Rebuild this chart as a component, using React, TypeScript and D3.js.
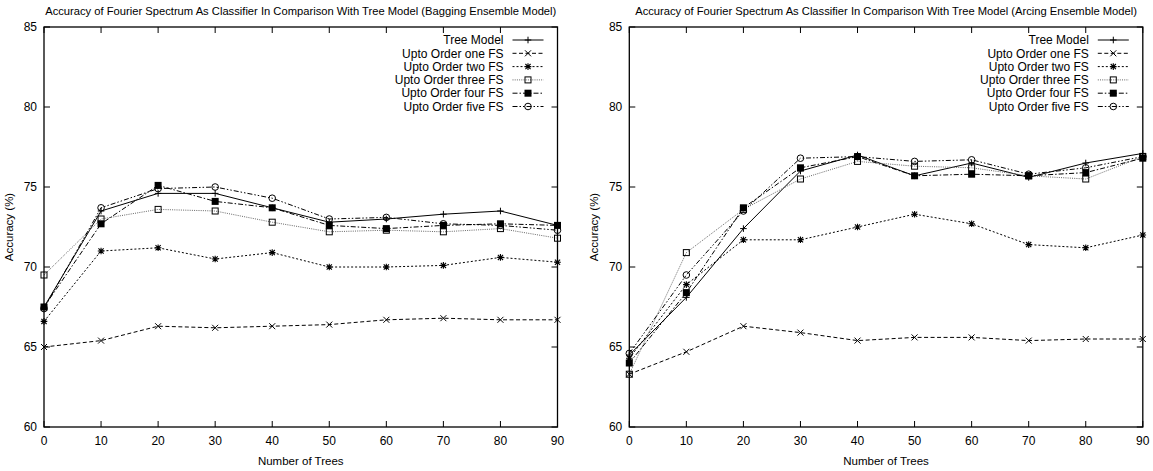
import React from "react";
import * as d3 from "d3";

const TREES = [0, 10, 20, 30, 40, 50, 60, 70, 80, 90];
const X_TICKS = [0, 10, 20, 30, 40, 50, 60, 70, 80, 90];
const Y_TICKS = [60, 65, 70, 75, 80, 85];

const SERIES_NAMES = [
  "Tree Model",
  "Upto Order one FS",
  "Upto Order two FS",
  "Upto Order three FS",
  "Upto Order four FS",
  "Upto Order five FS",
];

// Bagging ensemble model
const bagTree = [67.5, 73.5, 74.6, 74.6, 73.7, 72.8, 73.0, 73.3, 73.5, 72.6];
const bagOne = [65.0, 65.4, 66.3, 66.2, 66.3, 66.4, 66.7, 66.8, 66.7, 66.7];
const bagTwo = [66.6, 71.0, 71.2, 70.5, 70.9, 70.0, 70.0, 70.1, 70.6, 70.3];
const bagThree = [69.5, 73.0, 73.6, 73.5, 72.8, 72.2, 72.3, 72.2, 72.4, 71.8];
const bagFour = [67.5, 72.7, 75.1, 74.1, 73.7, 72.6, 72.4, 72.6, 72.7, 72.6];
const bagFive = [67.4, 73.7, 74.9, 75.0, 74.3, 73.0, 73.1, 72.7, 72.6, 72.3];

// Arcing ensemble model
const arcTree = [64.5, 68.1, 72.4, 76.0, 77.0, 75.7, 76.5, 75.6, 76.5, 77.1];
const arcOne = [63.3, 64.7, 66.3, 65.9, 65.4, 65.6, 65.6, 65.4, 65.5, 65.5];
const arcTwo = [64.3, 68.9, 71.7, 71.7, 72.5, 73.3, 72.7, 71.4, 71.2, 72.0];
const arcThree = [63.3, 70.9, 73.6, 75.5, 76.6, 76.3, 76.2, 75.7, 75.5, 76.9];
const arcFour = [64.0, 68.4, 73.7, 76.2, 76.9, 75.7, 75.8, 75.7, 75.9, 76.8];
const arcFive = [64.6, 69.5, 73.5, 76.8, 76.9, 76.6, 76.7, 75.8, 76.2, 76.9];

const STYLES = [
  { dash: "none", stroke: "#000", marker: "plus" },
  { dash: "4,2.5", stroke: "#000", marker: "cross" },
  { dash: "2,2", stroke: "#000", marker: "star" },
  { dash: "1,1.2", stroke: "#666", marker: "square" },
  { dash: "5,2,1.5,2", stroke: "#000", marker: "fsquare" },
  { dash: "5,2,1.5,2,1.5,2", stroke: "#000", marker: "circle" },
];

const FONT = "'Liberation Sans', Arial, Helvetica, sans-serif";

function Marker({ type, x, y }: { type: string; x: number; y: number }) {
  const t = `translate(${x},${y})`;
  const s = 3.3;
  if (type === "plus")
    return <path transform={t} d={`M${-s},0H${s}M0,${-s}V${s}`} stroke="#000" strokeWidth={1} fill="none" />;
  if (type === "cross")
    return <path transform={t} d={`M${-3},${-3}L3,3M-3,3L3,-3`} stroke="#000" strokeWidth={1} fill="none" />;
  if (type === "star")
    return (
      <path
        transform={t}
        d={`M${-s},0H${s}M0,${-s}V${s}M-2.6,-2.6L2.6,2.6M-2.6,2.6L2.6,-2.6`}
        stroke="#000"
        strokeWidth={1.1}
        fill="none"
      />
    );
  if (type === "square")
    return <rect transform={t} x={-3} y={-3} width={6} height={6} stroke="#000" strokeWidth={1} fill="none" />;
  if (type === "fsquare")
    return <rect transform={t} x={-3.5} y={-3.5} width={7} height={7} fill="#000" />;
  return <circle transform={t} r={3.3} stroke="#000" strokeWidth={1} fill="none" />;
}

function Panel({
  left,
  title,
  series,
}: {
  left: number;
  title: string;
  series: number[][];
}) {
  const x0 = left;
  const x1 = left + 513.5;
  const yTop = 27;
  const yBot = 427;
  const xs = d3.scaleLinear().domain([0, 90]).range([x0, x1]);
  const ys = d3.scaleLinear().domain([60, 85]).range([yBot, yTop]);
  const line = d3
    .line<number>()
    .x((_, i) => xs(TREES[i]))
    .y((d) => ys(d));
  const tick = 6;
  const cx = (x0 + x1) / 2;
  const cy = (yTop + yBot) / 2;
  return (
    <g fontFamily={FONT}>
      <text x={cx} y={15} textAnchor="middle" fontSize={11.2} fill="#000">
        {title}
      </text>
      {/* series lines */}
      {series.map((vals, si) => (
        <path
          key={"l" + si}
          d={line(vals) || ""}
          fill="none"
          stroke={STYLES[si].stroke}
          strokeWidth={1}
          strokeDasharray={STYLES[si].dash}
        />
      ))}
      {series.map((vals, si) =>
        vals.map((v, i) => <Marker key={"m" + si + "-" + i} type={STYLES[si].marker} x={xs(TREES[i])} y={ys(v)} />)
      )}
      {/* ticks */}
      {X_TICKS.map((t) => (
        <g key={"xt" + t}>
          <line x1={xs(t)} x2={xs(t)} y1={yBot} y2={yBot - tick} stroke="#000" strokeWidth={1} />
          <line x1={xs(t)} x2={xs(t)} y1={yTop} y2={yTop + tick} stroke="#000" strokeWidth={1} />
          <text x={xs(t)} y={445} textAnchor="middle" fontSize={12} fill="#000">
            {t}
          </text>
        </g>
      ))}
      {Y_TICKS.map((t) => (
        <g key={"yt" + t}>
          <line x1={x0} x2={x0 + tick} y1={ys(t)} y2={ys(t)} stroke="#000" strokeWidth={1} />
          <line x1={x1} x2={x1 - tick} y1={ys(t)} y2={ys(t)} stroke="#000" strokeWidth={1} />
          <text x={x0 - 7} y={ys(t)} dy="0.35em" textAnchor="end" fontSize={12} fill="#000">
            {t}
          </text>
        </g>
      ))}
      {/* frame */}
      <rect x={x0} y={yTop} width={x1 - x0} height={yBot - yTop} fill="none" stroke="#000" strokeWidth={1.3} />
      {/* axis labels */}
      <text x={cx} y={465} textAnchor="middle" fontSize={11.5} fill="#000">
        Number of Trees
      </text>
      <text
        transform={`translate(${x0 - 31},${cy}) rotate(-90)`}
        textAnchor="middle"
        fontSize={11.5}
        fill="#000"
      >
        Accuracy (%)
      </text>
      {/* legend */}
      {SERIES_NAMES.map((name, si) => {
        const ly = 40 + si * 13.3;
        const sx0 = x1 - 45;
        const sx1 = x1 - 14;
        return (
          <g key={"lg" + si}>
            <text x={x1 - 54} y={ly} dy="0.35em" textAnchor="end" fontSize={12} fill="#000">
              {name}
            </text>
            <line
              x1={sx0}
              x2={sx1}
              y1={ly}
              y2={ly}
              stroke={STYLES[si].stroke}
              strokeWidth={1}
              strokeDasharray={STYLES[si].dash}
            />
            <Marker type={STYLES[si].marker} x={(sx0 + sx1) / 2} y={ly} />
          </g>
        );
      })}
    </g>
  );
}

export default function App() {
  return (
    <svg
      width={1153}
      height={471}
      style={{ position: "absolute", left: 0, top: 0, background: "#fff" }}
    >
      <rect width={1153} height={471} fill="#fff" />
      <Panel
        left={44}
        title="Accuracy of Fourier Spectrum As Classifier In Comparison With Tree Model (Bagging Ensemble Model)"
        series={[bagTree, bagOne, bagTwo, bagThree, bagFour, bagFive]}
      />
      <Panel
        left={629.3}
        title="Accuracy of Fourier Spectrum As Classifier In Comparison With Tree Model (Arcing Ensemble Model)"
        series={[arcTree, arcOne, arcTwo, arcThree, arcFour, arcFive]}
      />
    </svg>
  );
}
